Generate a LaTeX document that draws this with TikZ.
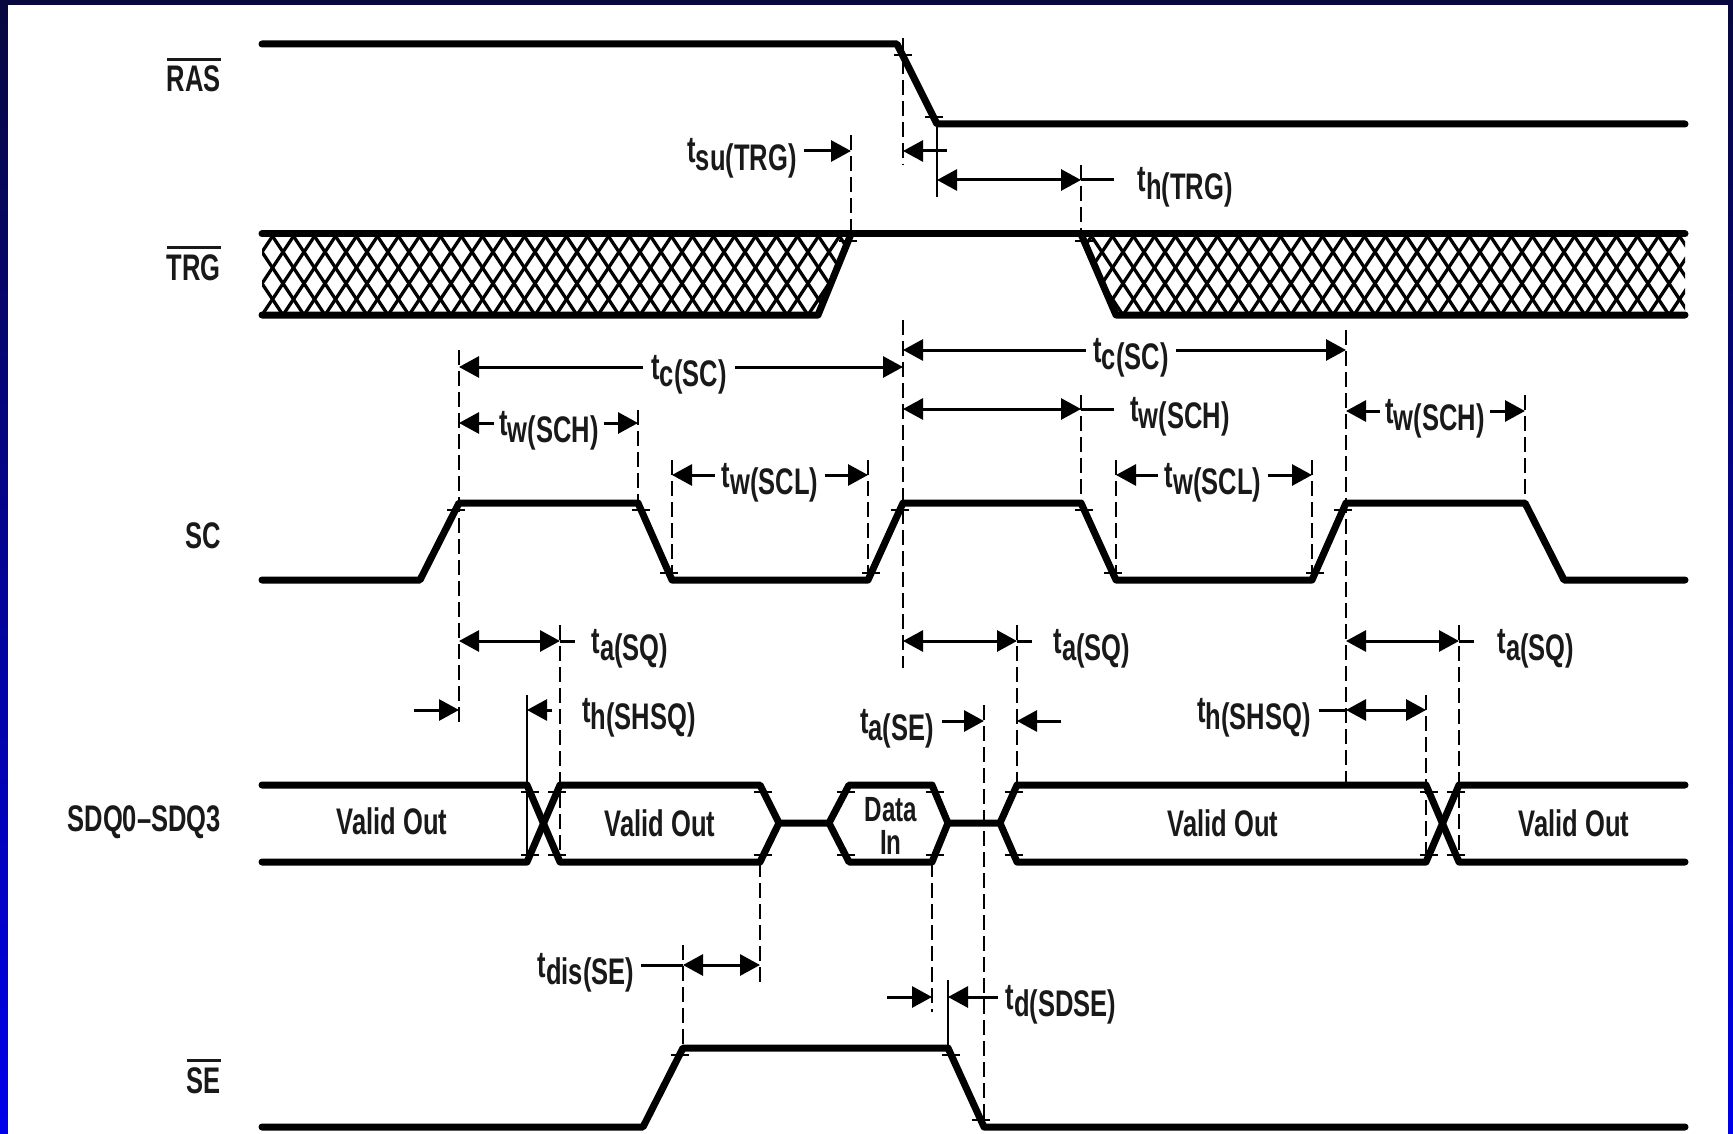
\documentclass[tikz,border=0pt]{standalone}
\usepackage{fontspec}
\setmainfont{Liberation Sans}[FakeStretch=0.69]
\usetikzlibrary{arrows.meta}
\newcommand\tlab[1]{t\raisebox{-0.2em}{#1}}
\newcommand\obar[1]{\vbox{\hrule height 3pt\kern 5pt\hbox{#1}}}
\newcommand\tk[2]{\draw[tickst] ({#1-9},#2) -- ({#1+9},#2);}
\begin{document}
\begin{tikzpicture}[x=1pt,y=-1pt,
  font=\fontsize{37}{32}\selectfont\bfseries,
  rail/.style={line width=7pt,line cap=round,line join=round},
  hatch/.style={line width=3.3pt},
  dim/.style={line width=3pt},
  arr/.style={dim,-{Triangle[length=20pt,width=21pt]}},
  arrs/.style={dim,{Triangle[length=20pt,width=21pt]}-{Triangle[length=20pt,width=21pt]}},
  vd/.style={line width=2.5pt,dash pattern=on 15pt off 6pt},
  vs/.style={line width=2.5pt},
  tickst/.style={line width=2.5pt},
  lab/.style={inner sep=0pt,text=black!90}]
\useasboundingbox (0,0) rectangle (1733,1134);
\shade[top color={rgb,255:red,8;green,8;blue,62},bottom color={rgb,255:red,0;green,0;blue,235}] (0,0) rectangle (1733,1134);
\fill[white] (8,5) rectangle (1728,1134);

% ---------- signal names ----------
\node[lab,anchor=base east] (lras) at (221,92) {\obar{RAS}};
\node[lab,anchor=base east] (ltrg) at (221,280) {\obar{TRG}};
\node[lab,anchor=base east] (lsc) at (221,548) {SC};
\node[lab,anchor=base east] (lsdq) at (221,831) {SDQ0--SDQ3};
\node[lab,anchor=base east] (lse) at (221,1093) {\obar{SE}};

% ---------- hatch ----------
\begin{scope}
\clip (262,234) -- (851,234) -- (818,315) -- (262,315) -- cycle;
\foreach \i in {-3,...,32} {
  \draw[hatch] ({262+\i*21},315) -- ++(54,-81);
  \draw[hatch] ({262+\i*21},315) -- ++(-54,-81);
}
\end{scope}
\begin{scope}
\clip (1081,234) -- (1685,234) -- (1685,315) -- (1116,315) -- cycle;
\foreach \i in {36,...,72} {
  \draw[hatch] ({262+\i*21},315) -- ++(54,-81);
  \draw[hatch] ({262+\i*21},315) -- ++(-54,-81);
}
\end{scope}

% ---------- reference lines ----------
\draw[vd] (903,38) -- (903,165);
\draw[vd] (851,135) -- (851,234);
\draw[vs] (937,124) -- (937,197);
\draw[vd] (1081,165) -- (1081,234);
\draw[vd] (1081,395) -- (1081,503);
\draw[vd] (459,350) -- (459,725);
\draw[vd] (903,320) -- (903,668);
\draw[vd] (638,410) -- (638,503);
\draw[vd] (672,460) -- (672,580);
\draw[vd] (868,460) -- (868,580);
\draw[vd] (1116,460) -- (1116,580);
\draw[vd] (1312,460) -- (1312,580);
\draw[vd] (1346,330) -- (1346,785);
\draw[vd] (1525,395) -- (1525,503);
\draw[vd] (560,625) -- (560,862);
\draw[vs] (527,695) -- (527,862);
\draw[vd] (1017,625) -- (1017,785);
\draw[vd] (984,705) -- (984,1127);
\draw[vd] (1459,625) -- (1459,862);
\draw[vd] (1426,695) -- (1426,862);
\draw[vd] (760,862) -- (760,985);
\draw[vd] (932,862) -- (932,1012);
\draw[vs] (948,980) -- (948,1048);
\draw[vd] (683,945) -- (683,1048);

% ---------- waveforms ----------
\draw[rail] (262,44) -- (897,44) -- (937,124) -- (1685,124);
\draw[rail] (262,234) -- (1685,234);
\draw[rail] (262,315) -- (818,315) -- (851,234);
\draw[rail] (1081,234) -- (1116,315) -- (1685,315);
\draw[rail] (262,580) -- (420,580) -- (459,503) -- (638,503) -- (672,580) -- (868,580) -- (903,503) -- (1081,503) -- (1116,580) -- (1312,580) -- (1346,503) -- (1525,503) -- (1564,580) -- (1685,580);
\draw[rail] (262,785) -- (527,785) -- (560,862) -- (760,862) -- (779,823) -- (829,823) -- (849,862) -- (932,862) -- (948,823) -- (1000,823) -- (1017,862) -- (1426,862) -- (1459,785) -- (1685,785);
\draw[rail] (262,862) -- (527,862) -- (560,785) -- (760,785) -- (779,823);
\draw[rail] (829,823) -- (849,785) -- (932,785) -- (948,823);
\draw[rail] (1000,823) -- (1017,785) -- (1426,785) -- (1459,862) -- (1685,862);
\draw[rail] (262,1127) -- (643,1127) -- (683,1048) -- (948,1048) -- (984,1127) -- (1685,1127);

% ---------- ticks ----------
\tk{903}{55} \tk{934}{117}
\tk{848}{241} \tk{1084}{241}
\tk{456}{510} \tk{641}{510} \tk{669}{573} \tk{871}{573} \tk{900}{510}
\tk{1084}{510} \tk{1113}{573} \tk{1315}{573} \tk{1343}{510}
\tk{530}{792} \tk{530}{855} \tk{557}{792} \tk{557}{855}
\tk{763}{792} \tk{763}{855} \tk{846}{792} \tk{846}{855}
\tk{935}{792} \tk{935}{855} \tk{1014}{792} \tk{1014}{855}
\tk{1429}{792} \tk{1429}{855} \tk{1456}{792} \tk{1456}{855}
\tk{680}{1055} \tk{951}{1055} \tk{981}{1120}

% ---------- data labels ----------
\node[lab,anchor=base] (vo1) at (392,834) {Valid Out};
\node[lab,anchor=base] (vo2) at (660,836) {Valid Out};
\node[lab,anchor=base] (vo3) at (1223,836) {Valid Out};
\node[lab,anchor=base] (vo4) at (1574,836) {Valid Out};
\node[lab,anchor=base,font=\fontsize{35}{32}\selectfont\bfseries] (din1) at (891,821) {Data};
\node[lab,anchor=base,font=\fontsize{35}{32}\selectfont\bfseries] (din2) at (891,854) {In};

% ---------- timing parameters ----------
\node[lab,anchor=base] (tsu) at (742,163) {\tlab{su(TRG)}};
\draw[arr] (804,151) -- (851,151);
\draw[arr] (947,151) -- (903,151);

\node[lab,anchor=base] (thtrg) at (1185,192) {\tlab{h(TRG)}};
\draw[arrs] (937,180) -- (1081,180);
\draw[dim] (1081,180) -- (1114,180);

\node[lab,anchor=base] (tc1) at (689,379) {\tlab{c(SC)}};
\draw[arr] (643,367) -- (459,367);
\draw[arr] (735,367) -- (903,367);

\node[lab,anchor=base] (tc2) at (1131,362) {\tlab{c(SC)}};
\draw[arr] (1086,350) -- (903,350);
\draw[arr] (1176,350) -- (1346,350);

\node[lab,anchor=base] (tw1) at (549,435) {\tlab{w(SCH)}};
\draw[arr] (494,423) -- (459,423);
\draw[arr] (604,423) -- (638,423);

\node[lab,anchor=base] (tl1) at (770,487) {\tlab{w(SCL)}};
\draw[arr] (715,475) -- (672,475);
\draw[arr] (825,475) -- (868,475);

\node[lab,anchor=base] (tw2) at (1180,421) {\tlab{w(SCH)}};
\draw[arrs] (903,409) -- (1081,409);
\draw[dim] (1081,409) -- (1114,409);

\node[lab,anchor=base] (tl2) at (1213,487) {\tlab{w(SCL)}};
\draw[arr] (1158,475) -- (1116,475);
\draw[arr] (1268,475) -- (1312,475);

\node[lab,anchor=base] (tw3) at (1435,423) {\tlab{w(SCH)}};
\draw[arr] (1380,411) -- (1346,411);
\draw[arr] (1490,411) -- (1525,411);

\node[lab,anchor=base] (ta1) at (630,653) {\tlab{a(SQ)}};
\draw[arrs] (459,641) -- (560,641);
\draw[dim] (560,641) -- (575,641);

\node[lab,anchor=base] (ta2) at (1092,653) {\tlab{a(SQ)}};
\draw[arrs] (903,641) -- (1017,641);
\draw[dim] (1017,641) -- (1032,641);

\node[lab,anchor=base] (ta3) at (1536,653) {\tlab{a(SQ)}};
\draw[arrs] (1346,641) -- (1459,641);
\draw[dim] (1459,641) -- (1474,641);

\node[lab,anchor=base] (tsh1) at (639,722) {\tlab{h(SHSQ)}};
\draw[arr] (414,710) -- (459,710);
\draw[arr] (552,710) -- (527,710);

\node[lab,anchor=base] (tsh2) at (1254,722) {\tlab{h(SHSQ)}};
\draw[dim] (1319,710) -- (1346,710);
\draw[arrs] (1346,710) -- (1426,710);

\node[lab,anchor=base] (tase) at (897,733) {\tlab{a(SE)}};
\draw[arr] (942,721) -- (984,721);
\draw[arr] (1061,721) -- (1017,721);

\node[lab,anchor=base] (tdis) at (586,977) {\tlab{dis(SE)}};
\draw[dim] (641,965) -- (683,965);
\draw[arrs] (683,965) -- (760,965);

\node[lab,anchor=base] (tdsd) at (1061,1009) {\tlab{d(SDSE)}};
\draw[arr] (887,997) -- (932,997);
\draw[arr] (998,997) -- (948,997);
\end{tikzpicture}
\end{document}
